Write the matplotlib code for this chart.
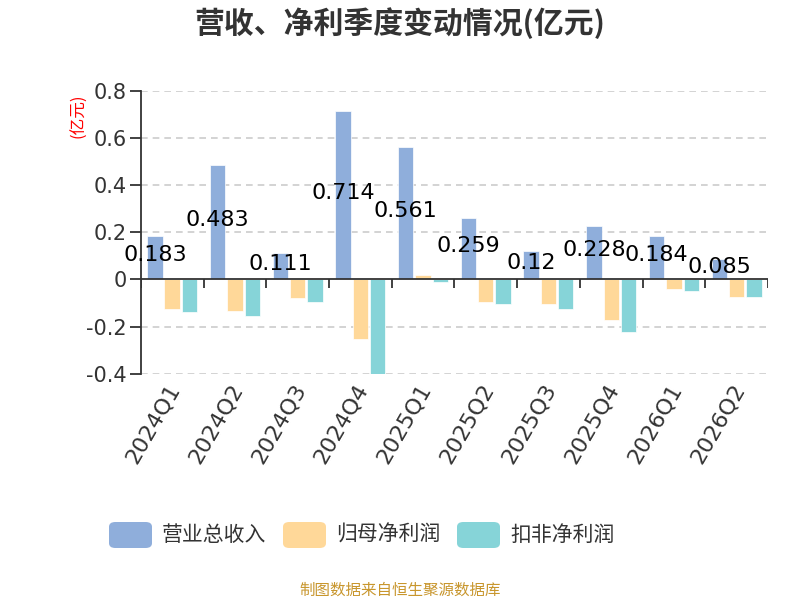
import matplotlib
matplotlib.use('Agg')
import matplotlib.pyplot as plt
from matplotlib.patches import FancyBboxPatch
import numpy as np

plt.rcParams['font.family'] = ['Noto Sans CJK SC', 'DejaVu Sans']
num_font = ['DejaVu Sans', 'Noto Sans CJK SC']

quarters = ['2024Q1', '2024Q2', '2024Q3', '2024Q4', '2025Q1',
            '2025Q2', '2025Q3', '2025Q4', '2026Q1', '2026Q2']
revenue = [0.183, 0.483, 0.111, 0.714, 0.561, 0.259, 0.12, 0.228, 0.184, 0.085]
net_profit = [-0.125, -0.136, -0.078, -0.251, 0.017, -0.094, -0.104, -0.171, -0.040, -0.074]
deducted_profit = [-0.139, -0.153, -0.096, -0.400, -0.013, -0.104, -0.125, -0.222, -0.050, -0.074]
series_names = ['营业总收入', '归母净利润', '扣非净利润']
colors = ['#8FAEDB', '#FFD899', '#86D4D8']

fig = plt.figure(figsize=[8, 6], dpi=100)
ax = fig.add_axes([0.176, 0.377, 0.784, 0.472])

x = np.arange(len(quarters))
w = 0.245
step = 0.276
for i, (vals, c) in enumerate(zip([revenue, net_profit, deducted_profit], colors)):
    ax.bar(x + (i - 1) * step, vals, width=w, color=c, edgecolor='white', linewidth=0.5, zorder=3)

for xi, v in zip(x, revenue):
    ax.text(xi - step, v / 2 + 0.011, str(v), ha='center', va='center',
            fontsize=16, family=num_font, color='black', zorder=4)

ax.set_xlim(-0.5, len(quarters) - 0.5)
ax.set_ylim(-0.4, 0.8)
ax.set_yticks([-0.4, -0.2, 0, 0.2, 0.4, 0.6, 0.8])
ax.set_yticklabels(['-0.4', '-0.2', '0', '0.2', '0.4', '0.6', '0.8'], fontsize=15,
                   color='#333333', family=num_font)
for yv in [-0.4, -0.2, 0.2, 0.4, 0.6, 0.8]:
    ax.axhline(yv, color='#cccccc', linestyle=(0, (4, 3)), linewidth=1.2, zorder=1)
ax.axhline(0, color='#333333', linewidth=1.3, zorder=4)

# category boundary ticks on the zero line
ax.vlines(np.arange(len(quarters) + 1) - 0.5, -0.036, 0, color='#333333', linewidth=1.3, zorder=4)

ax.set_xticks(x + 0.05)
ax.set_xticklabels(quarters, rotation=60, ha='right', va='center', rotation_mode='anchor',
                   fontsize=16, color='#333333', family=num_font)
ax.tick_params(axis='x', length=0, pad=8)
ax.tick_params(axis='y', length=8, width=1.3, color='#333333', pad=2)

for s in ['top', 'right', 'bottom']:
    ax.spines[s].set_visible(False)
ax.spines['left'].set_color('#333333')
ax.spines['left'].set_linewidth(1.3)

fig.text(0.099, 1 - 116 / 600, '(亿元)', rotation=90, color='red', fontsize=12,
         ha='center', va='center')

fig.text(0.5, 0.962, '营收、净利季度变动情况(亿元)', ha='center', va='center',
         fontsize=21.5, fontweight='bold', color='#333333')

# legend
leg_x = [109, 283, 457]
for lx, name, c in zip(leg_x, series_names, colors):
    fig.patches.append(FancyBboxPatch((lx / 800, 1 - 548 / 600), 43 / 800, 26 / 600,
                                      boxstyle='round,pad=0,rounding_size=0.008',
                                      transform=fig.transFigure, facecolor=c, edgecolor='none'))
    fig.text((lx + 53) / 800, 1 - 535 / 600, name, ha='left', va='center',
             fontsize=15, color='#333333')

fig.text(0.5, 1 - 590 / 600, '制图数据来自恒生聚源数据库', ha='center', va='center',
         fontsize=11.2, color='#C8962D')

fig.savefig('out.png', dpi=100)
